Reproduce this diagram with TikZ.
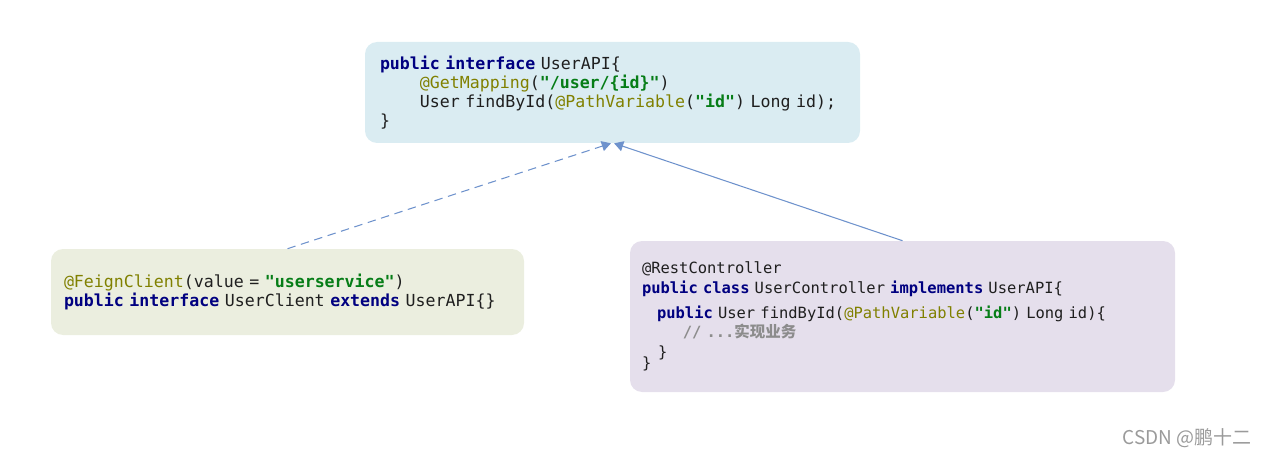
\documentclass[tikz,border=0pt]{standalone}
\usepackage{fontspec}
\setmonofont{DejaVu Sans Mono}
\newfontfamily\cjk{Noto Sans CJK SC}
\usetikzlibrary{arrows, backgrounds}

\definecolor{apiblue}{HTML}{DAECF2}
\definecolor{clientgreen}{HTML}{EBEEDF}
\definecolor{ctrlpurple}{HTML}{E5DFEC}
\definecolor{linkblue}{HTML}{6E92CC}
\definecolor{kwnavy}{HTML}{000080}
\definecolor{annolive}{HTML}{808000}
\definecolor{strgreen}{HTML}{067D17}
\definecolor{cmtgray}{HTML}{8C8C8C}
\definecolor{codetext}{HTML}{1F1F1F}
\definecolor{markgray}{HTML}{9A9A9A}

\newcommand{\codekw}[1]{\textcolor{kwnavy}{\textbf{#1}}}
\newcommand{\codeann}[1]{\textcolor{annolive}{#1}}
\newcommand{\codestr}[1]{\textcolor{strgreen}{\textbf{#1}}}
\newcommand{\codecmt}[1]{\textcolor{cmtgray}{\textbf{#1}}}

\begin{document}
\begin{tikzpicture}[scale=1,
  codebox/.style={rounded corners=0.3cm, draw=none, align=left, inner ysep=0pt,
    text=codetext, font=\ttfamily\fontsize{11.8pt}{13.5pt}\selectfont},
  link/.style={linkblue, line width=0.75pt, ->, >=triangle 60}]

\useasboundingbox (0,0) rectangle (31.675,11.425);

%%%%%%%%%%%%%%% interface

\node [codebox, fill=apiblue, text width=11.625cm, inner xsep=0.375cm,
  minimum height=2.525cm] (api) at (15.3125,9.1125)
  {\codekw{public} \codekw{interface} UserAPI\{\\
   \phantom{xxxx}\codeann{@GetMapping}(\codestr{"/user/\{id\}"})\\
   \phantom{xxxx}User findById(\codeann{@PathVariable}(\codestr{"id"}) Long id);\\
   \}};

%%%%%%%%%%%%%%% client and controller

\node [codebox, fill=clientgreen, text width=11.175cm, inner xsep=0.325cm,
  minimum height=2.15cm] (client) at (7.1875,4.125)
  {\codeann{@FeignClient}(value = \codestr{"userservice"})\\
   \codekw{public} \codekw{interface} UserClient \codekw{extends} UserAPI\{\}};

\node [codebox, fill=ctrlpurple, text width=13.025cm, inner xsep=0.3cm,
  minimum height=3.775cm, font=\ttfamily\fontsize{11pt}{14pt}\selectfont]
  (ctrl) at (22.5625,3.5125)
  {@RestController\\
   \codekw{public} \codekw{class} UserController \codekw{implements} UserAPI\{\\[3.6pt]
   \hspace*{10.7pt}\codekw{public} User findById(\codeann{@PathVariable}(\codestr{"id"}) Long id)\{\\
   \hspace*{29pt}\codecmt{// ...{\cjk 实现业务}}\\
   \hspace*{11.4pt}\}\\[-6.2pt]
   \}};

%%%%%%%%%%%%%%% links

\draw [link, dash pattern=on 6pt off 4pt] (client.north) -- ([xshift=-0.04cm]api.south);
\draw [link] (ctrl.north) -- ([xshift=0.04cm]api.south);

\node [anchor=east, inner sep=0pt, text=markgray, font=\cjk\fontsize{13.5pt}{15pt}\selectfont]
  (mark) at (31.3,0.475) {CSDN @鹏十二};

\end{tikzpicture}
\end{document}
